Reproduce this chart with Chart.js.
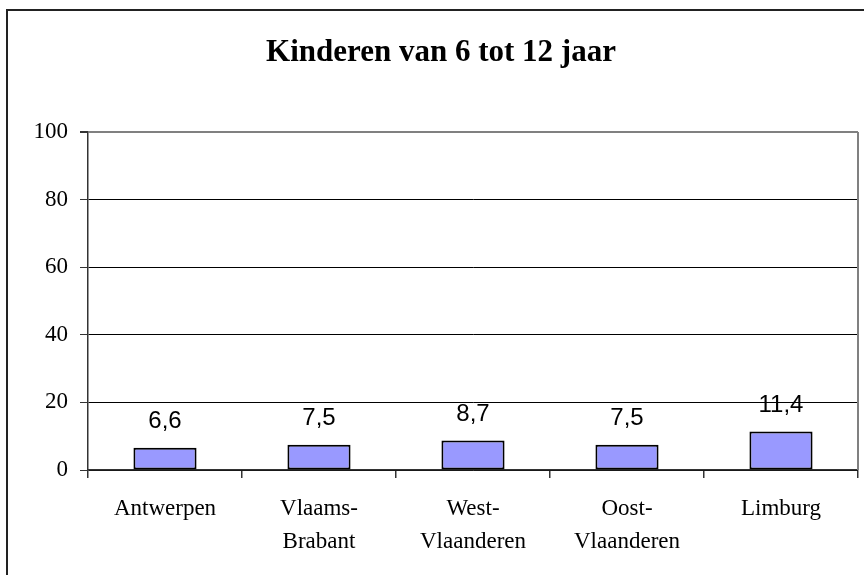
<!DOCTYPE html>
<html>
<head>
<meta charset="utf-8">
<title>Kinderen van 6 tot 12 jaar</title>
<script src="https://cdn.jsdelivr.net/npm/chart.js@4/dist/chart.umd.min.js"></script>
<style>
    body { margin: 0; background: #fff; }
    #wrap { position: relative; width: 864px; height: 575px; overflow: hidden; }
    #frame { position: absolute; left: 6px; top: 9px; width: 900px; height: 620px; border: 2px solid #222; }
    #chart { position: absolute; left: 0; top: 0; }
</style>
</head>
<body>
<div id="wrap">
    <div id="frame"></div>
    <canvas id="chart" width="864" height="575"></canvas>
</div>
<script>
// Chart data
const chartTitle = "Kinderen van 6 tot 12 jaar";
const provinces = [["Antwerpen"], ["Vlaams-", "Brabant"], ["West-", "Vlaanderen"], ["Oost-", "Vlaanderen"], ["Limburg"]];
const percentages = [6.6, 7.5, 8.7, 7.5, 11.4];
const yTicks = [0, 20, 40, 60, 80, 100];

// Title is centred on the outer frame, not on the canvas
const frameTitle = {
    id: "frameTitle",
    afterDraw(chart) {
        const ctx = chart.ctx;
        ctx.save();
        ctx.font = "bold 31px 'Liberation Serif', 'Times New Roman', serif";
        ctx.fillStyle = "#000";
        ctx.textAlign = "center";
        ctx.textBaseline = "middle";
        ctx.fillText(chartTitle, 441, 53);
        ctx.restore();
    },
};

// Draws the value above each bar, with a decimal comma
const valueLabels = {
    id: "valueLabels",
    afterDatasetsDraw(chart) {
        const ctx = chart.ctx;
        const meta = chart.getDatasetMeta(0);
        ctx.save();
        ctx.font = "24px 'Liberation Sans', Arial, sans-serif";
        ctx.fillStyle = "#000";
        ctx.textAlign = "center";
        ctx.textBaseline = "middle";
        meta.data.forEach(function (bar, i) {
            const text = percentages[i].toFixed(1).replace(".", ",");
            ctx.fillText(text, bar.x, bar.y - 26);
        });
        ctx.restore();
    },
};

// Gray right border of the plot area
const plotBorder = {
    id: "plotBorder",
    beforeDatasetsDraw(chart) {
        const a = chart.chartArea;
        const ctx = chart.ctx;
        ctx.save();
        ctx.strokeStyle = "#808080";
        ctx.lineWidth = 2;
        ctx.beginPath();
        ctx.moveTo(a.right, a.top);
        ctx.lineTo(a.right, a.bottom);
        ctx.stroke();
        ctx.restore();
    },
};

const ctx = document.getElementById("chart").getContext("2d");

new Chart(ctx, {
    type: "bar",
    data: {
        labels: provinces,
        datasets: [
            {
                data: percentages,
                backgroundColor: "#9999FF",
                borderColor: "#000",
                borderWidth: 2,
                borderSkipped: false,
                categoryPercentage: 1,
                barPercentage: 0.41,
            },
        ],
    },
    options: {
        responsive: false,
        animation: false,
        layout: { padding: { left: 0, right: 6, top: 132, bottom: 0 } },
        plugins: {
            legend: { display: false },
            tooltip: { enabled: false },
            title: { display: false },
        },
        scales: {
            x: {
                afterFit(scale) { scale.height = 105; },
                grid: {
                    offset: true,
                    drawOnChartArea: false,
                    drawTicks: true,
                    tickLength: 8,
                    tickColor: "#333",
                    lineWidth: 1.5,
                },
                border: { color: "#333", width: 1.5 },
                ticks: {
                    color: "#000",
                    padding: 15,
                    maxRotation: 0,
                    autoSkip: false,
                    font: { family: "'Liberation Serif', 'Times New Roman', serif", size: 23, lineHeight: 1.43 },
                },
            },
            y: {
                min: 0,
                max: 100,
                afterFit(scale) { scale.width = 88; },
                afterBuildTicks(scale) { scale.ticks = yTicks.map(function (v) { return { value: v }; }); },
                grid: {
                    color(c) { return c.tick && c.tick.value === 100 ? "#808080" : "#000"; },
                    lineWidth(c) { return c.tick && c.tick.value === 100 ? 2 : 1; },
                    drawTicks: true,
                    tickLength: 8,
                    tickColor: "#333",
                },
                border: { color: "#333", width: 1.5 },
                ticks: {
                    color: "#000",
                    padding: 12,
                    font: { family: "'Liberation Serif', 'Times New Roman', serif", size: 23 },
                },
            },
        },
    },
    plugins: [frameTitle, valueLabels, plotBorder],
});
</script>
</body>
</html>
